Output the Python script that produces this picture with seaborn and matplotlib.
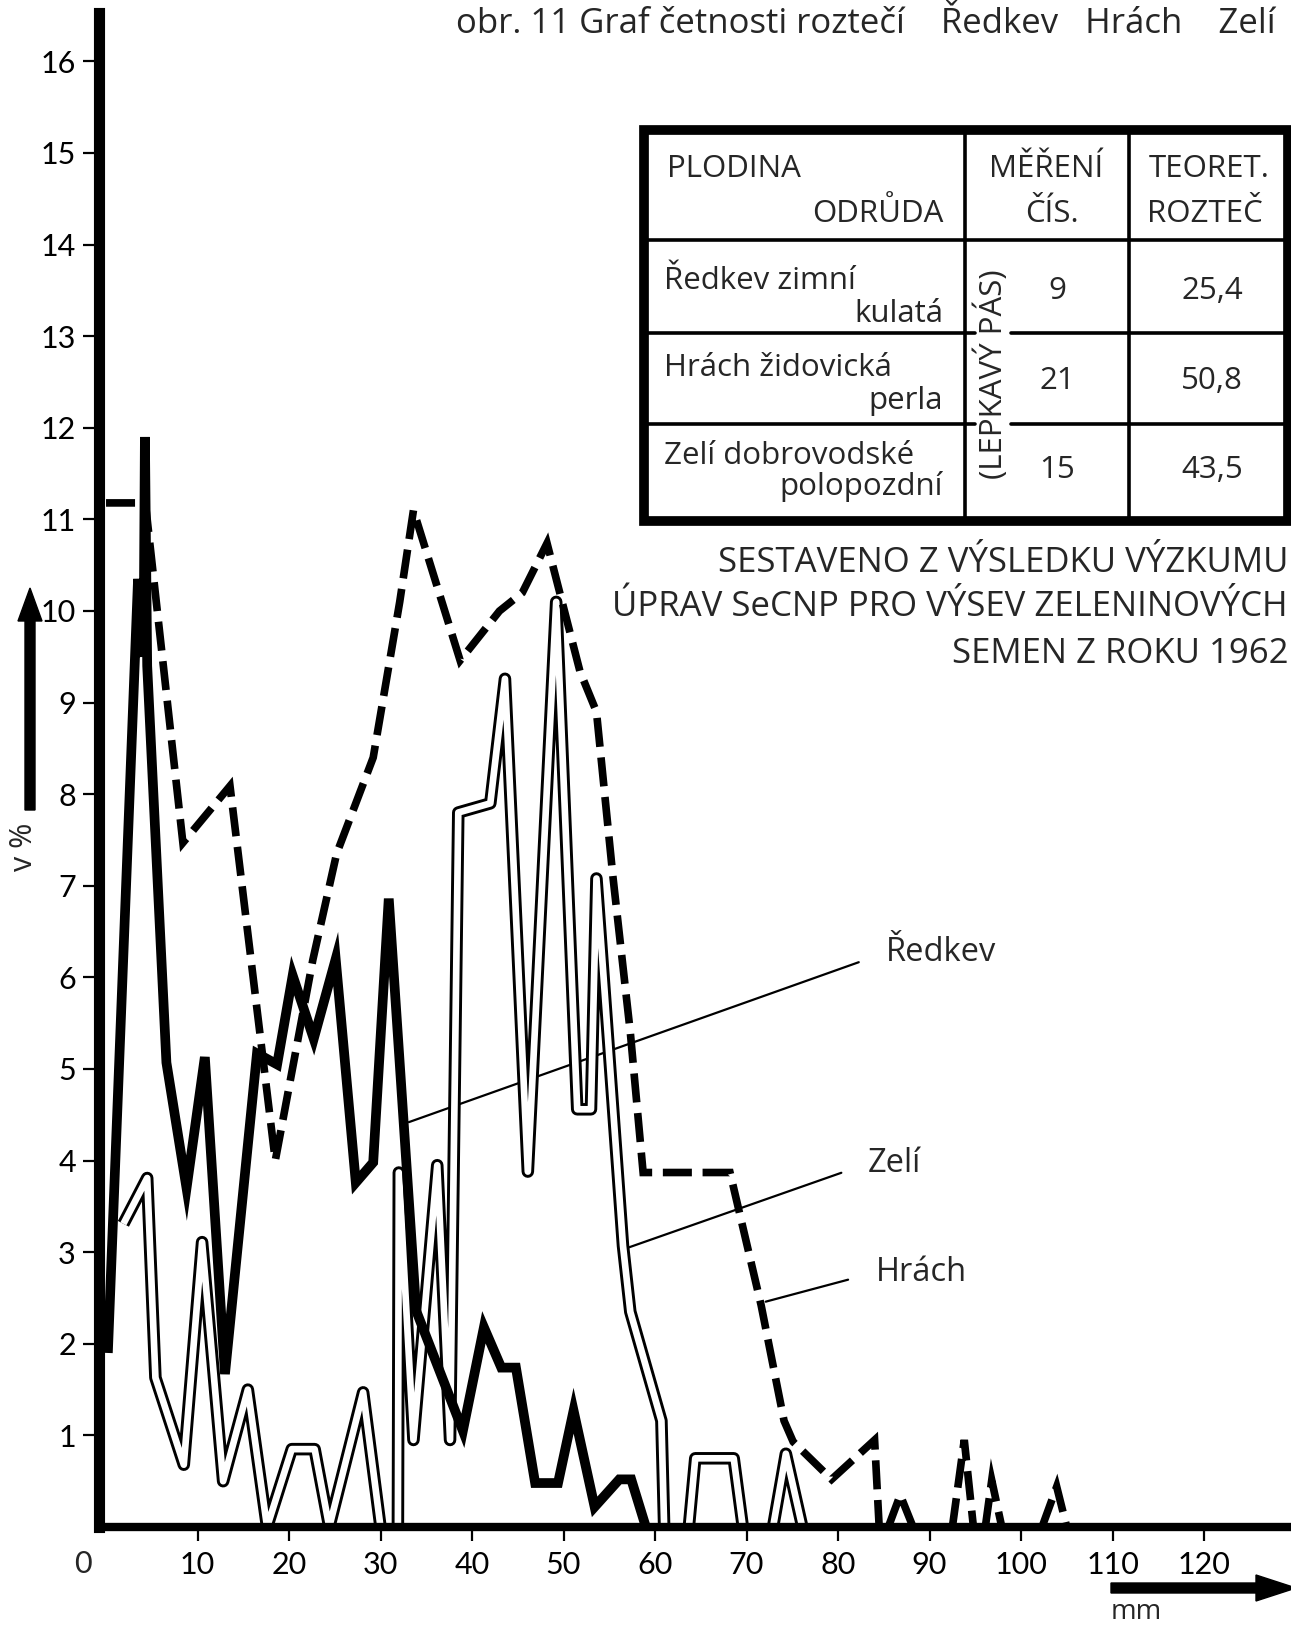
import matplotlib
matplotlib.use("Agg")
import numpy as np
import pandas as pd
import matplotlib.pyplot as plt
import matplotlib.transforms as mtransforms
from matplotlib.patches import FancyArrow, Rectangle
from matplotlib.lines import Line2D
import seaborn as sns

# ---------------------------
# Data: spacing (mm) vs frequency (%)
# ---------------------------
# Ředkev - thick solid line
redkev_mm = [0.2, 3.5, 4.1, 4.25, 4.5, 6.6, 8.8, 10.8, 13.0, 16.5, 18.7, 20.4, 22.7,
             25.1, 27.3, 29.2, 30.9, 33.9, 39.0, 41.3, 43.2, 44.8, 46.9, 49.4, 51.1,
             53.4, 56.1, 57.4, 59.0]
redkev_pct = [1.9, 10.35, 9.5, 11.9, 9.4, 5.07, 3.7, 5.13, 1.67, 5.17, 5.05, 6.02, 5.33,
              6.2, 3.76, 3.98, 6.86, 2.36, 1.05, 2.18, 1.74, 1.74, 0.48, 0.48, 1.27,
              0.22, 0.52, 0.52, 0.0]

# Hrách - dashed line (split where it runs along zero)
hrach_mm = [0.0, 4.3, 8.4, 13.55, 18.5, 22.6, 25.2, 29.2, 32.1, 33.6, 38.7, 43.0, 45.5,
            48.2, 51.8, 53.6, 55.4, 57.3, 58.7, 68.2, 71.6, 74.1, 75.1, 79.3, 84.0, 84.5,
            85.5, 86.8, 88.2,
            92.5, 93.8, 94.8,
            96.1, 96.8, 97.9,
            102.3, 103.9, 105.0]
hrach_pct = [11.18, 11.18, 7.47, 8.09, 4.0, 6.19, 7.35, 8.4, 10.1, 11.1, 9.46, 10.0, 10.2,
             10.74, 9.34, 8.9, 7.1, 5.4, 3.87, 3.87, 2.42, 1.16, 0.93, 0.52, 0.95, 0.0,
             0.0, 0.35, 0.0,
             0.0, 0.95, 0.0,
             0.0, 0.51, 0.0,
             0.0, 0.44, 0.0]
hrach_seg = [0] * 26 + [1] * 3 + [2] * 3 + [3] * 3 + [4] * 3

# Zelí - double (hollow) line
zeli_mm = [1.9, 4.5, 5.4, 8.5, 10.5, 12.8, 15.5, 17.6, 20.3, 22.8, 24.4, 28.1, 30.0,
           31.9, 32.0, 33.6, 36.2, 37.6, 38.5, 42.0, 43.6, 46.1, 49.2, 51.5, 53.0, 53.6,
           56.5, 57.3, 60.7, 61.0,
           63.7, 64.4, 68.6, 69.6,
           72.9, 74.3, 76.1]
zeli_pct = [3.31, 3.81, 1.63, 0.68, 3.11, 0.5, 1.5, 0.0, 0.85, 0.85, 0.0, 1.47, 0.0,
            0.0, 3.87, 0.95, 3.95, 0.95, 7.8, 7.9, 9.26, 3.88, 10.1, 4.56, 4.56, 7.08,
            3.07, 2.35, 1.16, 0.0,
            0.0, 0.75, 0.75, 0.0,
            0.0, 0.8, 0.0]
zeli_seg = [0] * 13 + [1] * 17 + [2] * 4 + [3] * 3

x_ticks = list(range(10, 130, 10))
y_ticks = list(range(1, 17))

# table content
crops = ["Ředkev zimní", "Hrách židovická", "Zelí dobrovodské"]
varieties = ["kulatá", "perla", "polopozdní"]
measure_no = ["9", "21", "15"]
theor_spacing = ["25,4", "50,8", "43,5"]

title = "obr. 11 Graf četnosti roztečí    Ředkev   Hrách    Zelí"
note_lines = ["SESTAVENO Z VÝSLEDKU VÝZKUMU",
              "ÚPRAV SeCNP PRO VÝSEV ZELENINOVÝCH",
              "SEMEN Z ROKU 1962"]

# ---------------------------
# Figure
# ---------------------------
sns.set_theme(style="white")
plt.rcParams['font.family'] = ['Open Sans', 'DejaVu Sans']
num_font = ['Lato', 'DejaVu Sans']

W, H = 1291, 1625
fig = plt.figure(figsize=(W / 100, H / 100), dpi=100)
# pixel coords of the page, origin top-left
px = mtransforms.Affine2D().scale(1 / W, -1 / H).translate(0, 1) + fig.transFigure

x_left, y_base, y_top = 98.7, 1527, 13
ax = fig.add_axes([x_left / W, (H - y_base) / H, (W - x_left) / W, (y_base - y_top) / H])
ax.set_facecolor("white")

df_z = pd.DataFrame({'mm': zeli_mm, 'pct': zeli_pct, 'seg': zeli_seg})
df_h = pd.DataFrame({'mm': hrach_mm, 'pct': hrach_pct, 'seg': hrach_seg})
df_r = pd.DataFrame({'mm': redkev_mm, 'pct': redkev_pct})

sns.lineplot(data=df_z, x='mm', y='pct', units='seg', estimator=None, sort=False,
             color='black', lw=9, solid_joinstyle='round', solid_capstyle='butt',
             ax=ax, zorder=2)
sns.lineplot(data=df_z, x='mm', y='pct', units='seg', estimator=None, sort=False,
             color='white', lw=4.8, solid_joinstyle='round', solid_capstyle='butt',
             ax=ax, zorder=2.1)
sns.lineplot(data=df_h, x='mm', y='pct', units='seg', estimator=None, sort=False,
             color='black', lw=5.5, linestyle=(0, (3.8, 1.4)),
             dash_capstyle='butt', dash_joinstyle='miter', ax=ax, zorder=2.2)
sns.lineplot(data=df_r, x='mm', y='pct', estimator=None, sort=False,
             color='black', lw=7, solid_joinstyle='miter', solid_capstyle='butt',
             ax=ax, zorder=2.3)

ax.set_xlim(-0.8, (W - 106) / 9.15)
ax.set_ylim(0, (y_base - y_top) / 91.6)
ax.set_xlabel("")
ax.set_ylabel("")

for s in ['top', 'right']:
    ax.spines[s].set_visible(False)
ax.spines['left'].set_linewidth(8)
ax.spines['bottom'].set_linewidth(6)
for s in ['left', 'bottom']:
    ax.spines[s].set_color('black')
    ax.spines[s].set_zorder(3)

ax.set_yticks(y_ticks)
ax.set_yticklabels([str(v) for v in y_ticks], fontfamily=num_font)
ax.set_xticks(x_ticks)
ax.set_xticklabels([str(v) for v in x_ticks], fontfamily=num_font)
ax.tick_params(axis='y', direction='out', length=11.5, width=1.6, pad=5,
               labelsize=22, colors='black', left=True)
ax.tick_params(axis='x', direction='out', length=10, width=1.6, pad=7,
               labelsize=22, colors='black', bottom=True)
fig.text(83, 1550, "0", transform=px, ha='center', va='top', fontsize=22, family=num_font)

# series labels with leader lines
lead = dict(arrowstyle='-', lw=1.6, color='black', relpos=(0, 0.5), shrinkA=18, shrinkB=0)
ax.annotate("Ředkev", xy=(33.1, 4.42), xytext=(85.2, 6.27), ha='left', va='center',
            fontsize=23.5, arrowprops=lead, zorder=1)
ax.annotate("Zelí", xy=(56.5, 3.03), xytext=(83.3, 3.97), ha='left', va='center',
            fontsize=23.5, arrowprops=lead, zorder=1)
ax.annotate("Hrách", xy=(72.1, 2.46), xytext=(84.1, 2.78), ha='left', va='center',
            fontsize=23.5, arrowprops=lead, zorder=1)

# axis arrows and units
fig.add_artist(FancyArrow(30, 810, 0, -222, width=10, head_width=24, head_length=33,
                          length_includes_head=True, color='black', transform=px))
fig.text(24, 847, "v %", transform=px, rotation=90, ha='center', va='center', fontsize=22)
fig.add_artist(FancyArrow(1111, 1588, 185, 0, width=10, head_width=26, head_length=40,
                          length_includes_head=True, color='black', transform=px))
fig.text(1136, 1612, "mm", transform=px, ha='center', va='center', fontsize=20)

# title
fig.text(456, 33, title, transform=px, ha='left', va='baseline', fontsize=25)

# notes
for line, yb in zip(note_lines, [572, 616, 663]):
    fig.text(1288, yb, line, transform=px, ha='right', va='baseline', fontsize=25)

# ---------------------------
# Table
# ---------------------------
fig.add_artist(Rectangle((644, 130), 643.5, 391, transform=px, fill=False,
                         lw=7, edgecolor='black', joinstyle='miter', zorder=5))
thin = dict(color='black', lw=2.6, transform=px, zorder=5)
fig.add_artist(Line2D([965, 965], [130, 521], **thin))
fig.add_artist(Line2D([1129, 1129], [130, 521], **thin))
fig.add_artist(Line2D([644, 1287], [240, 240], **thin))
for yl in [332.5, 424.4]:
    fig.add_artist(Line2D([644, 975], [yl, yl], **thin))
    fig.add_artist(Line2D([1011, 1287], [yl, yl], **thin))

tfs = 22.5
fig.text(667, 177, "PLODINA", transform=px, ha='left', va='baseline', fontsize=tfs)
fig.text(943, 222, "ODRŮDA", transform=px, ha='right', va='baseline', fontsize=tfs)
fig.text(1046, 177, "MĚŘENÍ", transform=px, ha='center', va='baseline', fontsize=tfs)
fig.text(1052, 222, "ČÍS.", transform=px, ha='center', va='baseline', fontsize=tfs)
fig.text(1209, 177, "TEORET.", transform=px, ha='center', va='baseline', fontsize=tfs)
fig.text(1205, 222, "ROZTEČ", transform=px, ha='center', va='baseline', fontsize=tfs)
fig.text(992, 374, "(LEPKAVÝ PÁS)", transform=px, rotation=90, ha='center', va='center',
         fontsize=tfs)

crop_base = [289, 376, 464.5]
var_base = [322, 409, 494.6]
val_base = [299, 389, 478]
for i in range(3):
    fig.text(664, crop_base[i], crops[i], transform=px, ha='left', va='baseline', fontsize=tfs)
    fig.text(943, var_base[i], varieties[i], transform=px, ha='right', va='baseline', fontsize=tfs)
    fig.text(1057, val_base[i], measure_no[i], transform=px, ha='center', va='baseline', fontsize=tfs)
    fig.text(1212, val_base[i], theor_spacing[i], transform=px, ha='center', va='baseline', fontsize=tfs)

fig.savefig("out.png", dpi=100, facecolor='white')
